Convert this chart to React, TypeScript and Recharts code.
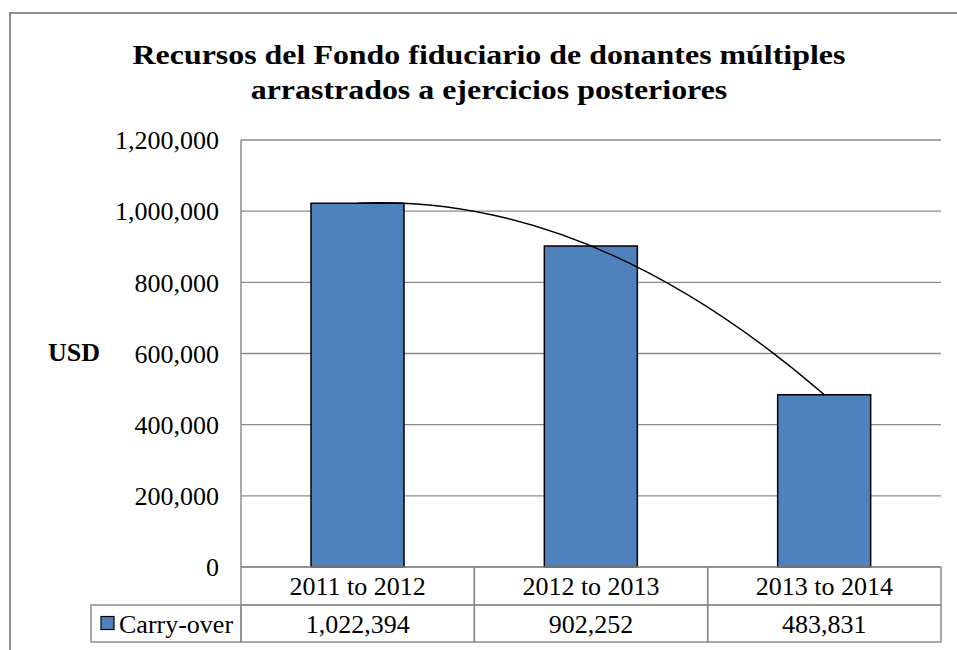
import React from 'react';
import { ComposedChart, Bar, Line, XAxis, YAxis, CartesianGrid } from 'recharts';

const categories = ['2011 to 2012', '2012 to 2013', '2013 to 2014'];
const carryOver = [1022394, 902252, 483831];
const yTicks = [0, 200000, 400000, 600000, 800000, 1000000, 1200000];
const seriesName = 'Carry-over';
const titleLines = ['Recursos del Fondo fiduciario de donantes múltiples', 'arrastrados a ejercicios posteriores'];
const yAxisTitle = 'USD';

const data = categories.map((c, i) => ({ category: c, value: carryOver[i] }));

const FONT = '"Liberation Serif", "Times New Roman", serif';
const W = 957;
const H = 650;
const PLOT_LEFT = 241;
const PLOT_RIGHT = 941;
const PLOT_TOP = 140;
const PLOT_BOTTOM = 567;
const ROW1 = 38;
const ROW2 = 37;
const LEGEND_LEFT = 91;
const GRID = '#8c8c8c';
const BAR_FILL = '#4F81BD';

const fmt = (v: number) => v.toLocaleString('en-US');

// Polynomial (order 2) trend curve through the series points
const quadTrend: any = (ctx: any) => {
  let pts: number[][] = [];
  return {
    areaStart() {},
    areaEnd() {},
    lineStart() {
      pts = [];
    },
    point(x: number, y: number) {
      pts.push([+x, +y]);
    },
    lineEnd() {
      if (pts.length === 0) return;
      if (pts.length < 3) {
        ctx.moveTo(pts[0][0], pts[0][1]);
        for (let i = 1; i < pts.length; i++) ctx.lineTo(pts[i][0], pts[i][1]);
        return;
      }
      const [p0, p1, p2] = pts;
      const cx = 2 * p1[0] - (p0[0] + p2[0]) / 2;
      const cy = 2 * p1[1] - (p0[1] + p2[1]) / 2;
      ctx.moveTo(p0[0], p0[1]);
      ctx.quadraticCurveTo(cx, cy, p2[0], p2[1]);
    },
  };
};

const TableTick = (props: any) => {
  const { x, y, index, payload } = props;
  const colW = (PLOT_RIGHT - PLOT_LEFT) / categories.length;
  const left = x - colW / 2;
  const top = y;
  return (
    <g>
      <rect x={left} y={top} width={colW} height={ROW1} fill="none" stroke={GRID} strokeWidth={1.5} />
      <rect x={left} y={top + ROW1} width={colW} height={ROW2} fill="none" stroke={GRID} strokeWidth={1.5} />
      <text x={x} y={top + ROW1 / 2} dy="0.36em" textAnchor="middle" fontFamily={FONT} fontSize={26} fill="#000">
        {payload.value}
      </text>
      <text x={x} y={top + ROW1 + ROW2 / 2} dy="0.36em" textAnchor="middle" fontFamily={FONT} fontSize={26} fill="#000">
        {fmt(carryOver[index])}
      </text>
      {index === 0 && (
        <g>
          <rect x={LEGEND_LEFT} y={top + ROW1} width={left - LEGEND_LEFT} height={ROW2} fill="none" stroke={GRID} strokeWidth={1.5} />
          <rect x={101} y={top + ROW1 + ROW2 / 2 - 7} width={13} height={13} fill={BAR_FILL} stroke="#000" strokeWidth={1.2} />
          <text x={119} y={top + ROW1 + ROW2 / 2} dy="0.36em" fontFamily={FONT} fontSize={26} fill="#000">
            {seriesName}
          </text>
        </g>
      )}
    </g>
  );
};

export default function App() {
  return (
    <div style={{ position: 'absolute', left: 0, top: 0, width: W, height: H, overflow: 'hidden', background: '#fff' }}>
      <div
        style={{
          position: 'absolute',
          left: 9,
          top: 12,
          width: 1000,
          height: 800,
          border: '2px solid #8f8f8f',
          boxSizing: 'border-box',
        }}
      />
      <div
        style={{
          position: 'absolute',
          left: 489 - 450,
          top: 37,
          width: 900,
          textAlign: 'center',
          fontFamily: FONT,
          fontWeight: 'bold',
          fontSize: 28,
          lineHeight: '35px',
          color: '#000',
          transform: 'scaleX(1.14)',
          transformOrigin: '450px 0',
        }}
      >
        {titleLines.map((t) => (
          <div key={t}>{t}</div>
        ))}
      </div>
      <div
        style={{
          position: 'absolute',
          left: 48,
          top: 353 - 17,
          fontFamily: FONT,
          fontWeight: 'bold',
          fontSize: 26,
          lineHeight: '34px',
          color: '#000',
        }}
      >
        {yAxisTitle}
      </div>
      <div style={{ position: 'absolute', left: 0, top: 0 }}>
        <ComposedChart
          width={W}
          height={H}
          data={data}
          margin={{ top: PLOT_TOP, right: W - PLOT_RIGHT, left: 0, bottom: 0 }}
          barCategoryGap="30%"
        >
          <CartesianGrid vertical={false} stroke={GRID} strokeWidth={1.4} />
          <XAxis
            dataKey="category"
            axisLine={false}
            tickLine={false}
            tickSize={0}
            tickMargin={0}
            height={H - PLOT_BOTTOM}
            interval={0}
            tick={<TableTick />}
          />
          <YAxis
            width={PLOT_LEFT}
            domain={[0, 1200000]}
            ticks={yTicks}
            tickFormatter={fmt}
            axisLine={{ stroke: GRID, strokeWidth: 1.5 }}
            tickLine={false}
            tickSize={6}
            tickMargin={16}
            tick={{ fontFamily: FONT, fontSize: 26, fill: '#000' }}
          />
          <Bar dataKey="value" name={seriesName} fill={BAR_FILL} stroke="#000" strokeWidth={1.5} isAnimationActive={false} />
          <Line
            dataKey="value"
            type={quadTrend}
            stroke="#000"
            strokeWidth={1.4}
            dot={false}
            activeDot={false}
            legendType="none"
            isAnimationActive={false}
          />
        </ComposedChart>
      </div>
    </div>
  );
}
